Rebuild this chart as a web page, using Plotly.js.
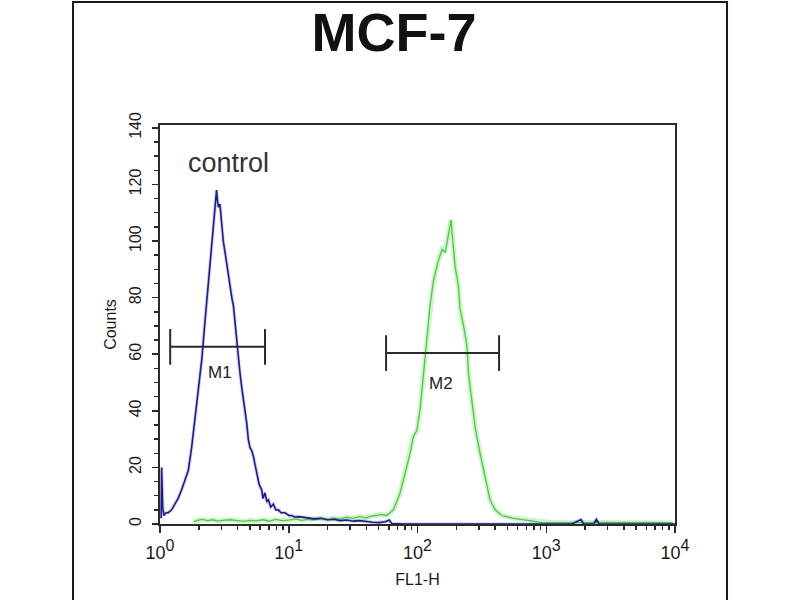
<!DOCTYPE html>
<html>
<head>
<meta charset="utf-8">
<script src="https://cdn.plot.ly/plotly-3.0.1.min.js"></script>
<style>
    html, body { margin: 0; padding: 0; background: #ffffff; }
    #chart { width: 800px; height: 600px; }
</style>
</head>
<body>
<div id="chart"></div>
<script>
// FL1-H channel values (log axis) and counts
const controlX = [1.02, 1.03, 1.05, 1.07, 1.11, 1.16, 1.23, 1.31, 1.38, 1.47, 1.55, 1.66, 1.76, 1.87, 1.99,
    2.11, 2.24, 2.38, 2.52, 2.67, 2.75, 2.80, 2.84, 2.92, 3.01, 3.10, 3.20, 3.30, 3.40, 3.50, 3.61, 3.72, 3.83,
    3.94, 4.06, 4.19, 4.32, 4.45, 4.58, 4.71, 4.85, 5.00, 5.15, 5.31, 5.47, 5.64, 5.89, 6.17, 6.31, 6.53, 6.76,
    6.95, 7.24, 7.60, 7.94, 8.30, 8.71, 9.35, 10.0, 10.5, 11.2, 12.0, 12.6, 14.1, 15.8, 17.8, 20.0, 22.4, 25.1,
    28.2, 31.6, 35.5, 39.8, 44.7, 50.1, 56.2, 60.3, 63.1, 79.4, 1580, 1860, 1950, 2340, 2450, 2570, 10000];
const controlCounts = [2, 20, 6, 3, 4, 4, 5, 7, 9, 12, 15, 19, 27, 37, 47,
    58, 72, 86, 98, 110, 118, 114, 112, 113, 105, 100, 96, 92, 88, 83, 80, 77, 71,
    63, 58, 53, 48, 44, 40, 36, 30, 27, 26, 24, 21, 18, 14, 12, 9, 11, 8,
    8.5, 6, 7, 5, 5, 4, 4, 3, 3, 2.5, 2.6, 2.5, 2, 1.8, 2, 1.5, 1.7, 1.2,
    1.4, 1, 1.2, 0.8, 0.6, 0.5, 0.8, 1.4, 0.2, 0, 0, 1.6, 0, 0, 1.6, 0, 0];

const sampleX = [1.82, 1.95, 2.14, 2.34, 2.57, 2.82, 3.16, 3.55, 3.98, 4.47, 5.01, 5.62, 6.31, 7.08, 7.94,
    8.91, 10.0, 11.2, 12.6, 14.1, 15.8, 17.8, 20.0, 22.4, 25.1, 28.2, 31.6, 35.5, 39.8, 43.7, 47.9, 51.2,
    57.7, 65.0, 73.3, 80.2, 87.7, 92.9, 98.9, 105, 111, 118, 125, 133, 145, 155, 164, 169, 174, 182, 188,
    196, 208, 214, 228, 242, 249, 264, 281, 306, 335, 366, 401, 452, 556, 706, 794, 891, 1120, 1410, 2000,
    2820, 3980, 5620, 7940, 9550];
const sampleCounts = [0.8, 1.3, 1.6, 1.2, 1.5, 1, 1.4, 1.5, 1.2, 0.9, 1.3, 1.1, 1.5, 1, 1.6,
    1.2, 1.4, 1.8, 1.3, 1.6, 1.5, 2, 1.5, 2.1, 1.8, 2.4, 2, 2.6, 2.2, 2.8, 3, 3.4,
    3, 5, 11, 18, 25, 31, 33, 41, 53, 64, 77, 86, 93, 97, 96, 99, 103, 107.5, 100,
    91, 84, 76, 70, 63, 53, 44, 34, 25, 17, 8.5, 5, 3, 2, 1.5, 1, 0.6, 0.5, 0.6, 0.5,
    0.6, 0.5, 0.5, 0.4, 0.5];

// marker gates: [start, end, level]
const gateM1 = [1.2, 6.54, 62.6];
const gateM2 = [57, 430, 60.4];
const gateNames = ['M1', 'M2'];
const gateLabelX = [2.93, 152];
const gateLabelY = [53.4, 49.8];

const decadeTicks = [1, 10, 100, 1000, 10000];
const decadeExp = ['0', '1', '2', '3', '4'];

const ink = '#2a2a2a';
const font = 'Liberation Sans, Arial, sans-serif';

const minorTicks = [];
decadeTicks.slice(0, -1).forEach((d) => {
    for (let m = 2; m <= 9; m++) minorTicks.push(d * m);
});

const gateTrace = (g) => ({
    x: [g[0], g[1]], y: [g[2], g[2]],
    type: 'scatter', mode: 'lines',
    line: { color: ink, width: 2 },
    error_y: { type: 'constant', value: 6.3, width: 0, thickness: 2, color: ink },
    hoverinfo: 'skip', showlegend: false,
});

const data = [
    {
        x: sampleX, y: sampleCounts, type: 'scatter', mode: 'lines',
        line: { color: 'rgba(165,238,150,0.55)', width: 5 },
        hoverinfo: 'skip', showlegend: false,
    },
    {
        x: sampleX, y: sampleCounts, type: 'scatter', mode: 'lines',
        line: { color: '#52c452', width: 1.3 },
        showlegend: false,
    },
    {
        x: controlX, y: controlCounts, type: 'scatter', mode: 'lines',
        line: { color: 'rgba(110,110,200,0.3)', width: 3.5 },
        hoverinfo: 'skip', showlegend: false,
    },
    {
        x: controlX, y: controlCounts, type: 'scatter', mode: 'lines',
        line: { color: '#1e1e82', width: 1.6 },
        showlegend: false,
    },
    gateTrace(gateM1),
    gateTrace(gateM2),
];

const annotations = [
    {
        x: Math.log10(3.38), y: 127.6, text: 'control', showarrow: false,
        font: { family: font, size: 27, color: '#333' },
    },
    ...gateNames.map((name, i) => ({
        x: Math.log10(gateLabelX[i]), y: gateLabelY[i], text: name, showarrow: false,
        font: { family: font, size: 17, color: '#222' },
    })),
];

const layout = {
    width: 800, height: 600,
    paper_bgcolor: '#ffffff', plot_bgcolor: '#ffffff',
    margin: { l: 160, r: 125, t: 125, b: 76 },
    font: { family: font, color: '#1a1a1a', size: 16 },
    title: {
        text: '<b>MCF-7</b>', font: { family: font, size: 54, color: '#111' },
        xref: 'container', x: 0.4925, xanchor: 'center',
        yref: 'container', y: 1 - 32 / 600, yanchor: 'middle',
    },
    xaxis: {
        type: 'log', range: [0, 4],
        title: { text: 'FL1-H', font: { size: 16 }, standoff: 12 },
        tickvals: decadeTicks,
        ticktext: decadeExp.map((e) => `10<sup><span style="font-size:16px">${e}</span></sup>`),
        ticks: 'outside', ticklen: 7, tickwidth: 1.5, tickcolor: ink,
        ticklabelstandoff: 4,
        minor: { tickvals: minorTicks, ticks: 'outside', ticklen: 4, tickwidth: 1.5, tickcolor: ink },
        showline: true, linecolor: ink, linewidth: 2, mirror: true,
        showgrid: false, zeroline: false,
        tickfont: { size: 18 },
    },
    yaxis: {
        range: [0, 141],
        title: { text: 'Counts', font: { size: 16 }, standoff: 6 },
        tickvals: [0, 20, 40, 60, 80, 100, 120, 140],
        tickangle: -90,
        ticks: 'outside', ticklen: 6, tickwidth: 1.5, tickcolor: ink,
        ticklabelstandoff: 5,
        minor: { dtick: 5, ticks: 'outside', ticklen: 4, tickwidth: 1.5, tickcolor: ink },
        showline: true, linecolor: ink, linewidth: 2, mirror: true,
        showgrid: false, zeroline: false,
        tickfont: { size: 16 },
    },
    shapes: [
        {
            type: 'rect', xref: 'paper', yref: 'paper',
            x0: -0.1689, x1: 1.101, y0: -0.3, y1: 1.308,
            line: { color: '#1a1a1a', width: 2 }, fillcolor: 'rgba(0,0,0,0)',
        },
    ],
    annotations,
    showlegend: false,
};

Plotly.newPlot('chart', data, layout, { displayModeBar: false, staticPlot: true });
</script>
</body>
</html>
